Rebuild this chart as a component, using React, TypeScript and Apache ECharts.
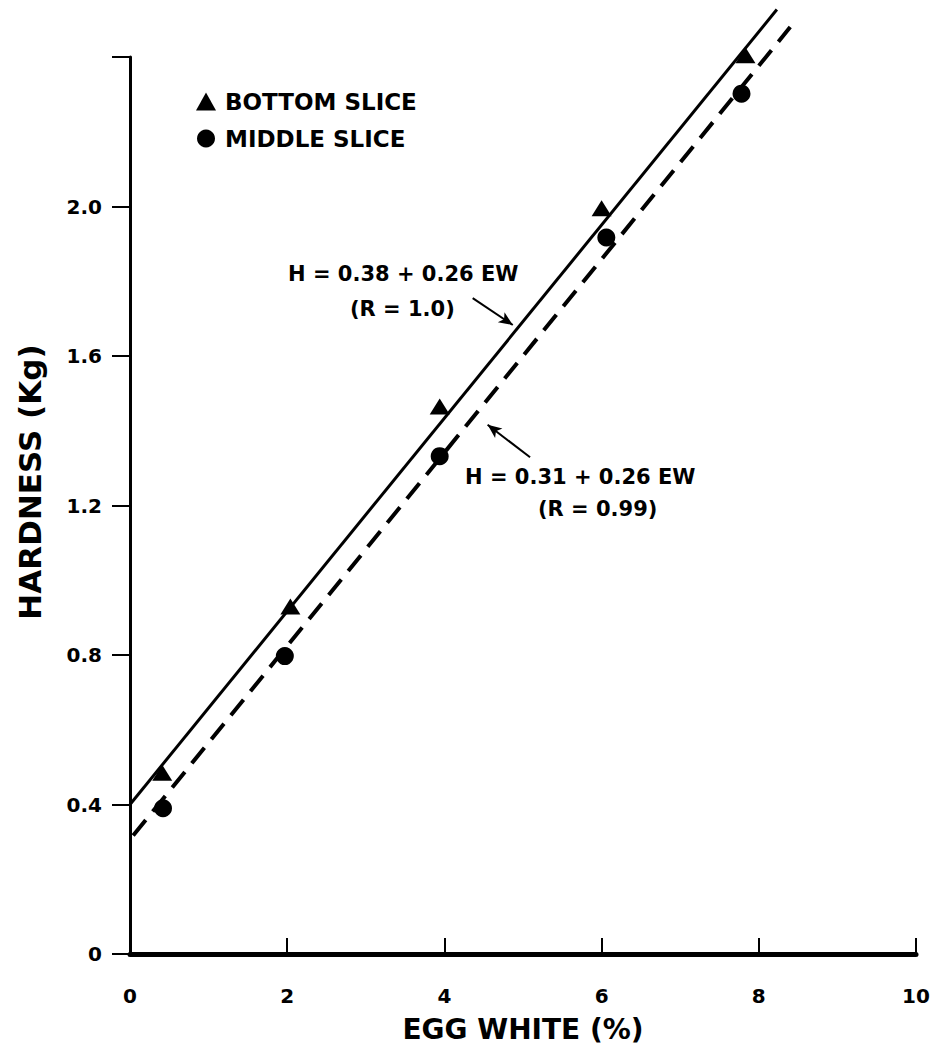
import React, { useEffect, useRef } from "react";
import * as echarts from "echarts";

const bottomSlice: [number, number][] = [
  [0.41, 0.485],
  [2.04, 0.93],
  [3.94, 1.465],
  [6.0, 1.995],
  [7.83, 2.405],
];
const middleSlice: [number, number][] = [
  [0.42, 0.39],
  [1.97, 0.797],
  [3.94, 1.332],
  [6.06, 1.917],
  [7.78, 2.302],
];
const bottomFit: [number, number][] = [
  [0, 0.4],
  [8.23, 2.527],
];
const middleFit: [number, number][] = [
  [0.04, 0.317],
  [8.4, 2.48],
];
const arrowBottom: [number, number][] = [
  [4.36, 1.755],
  [4.87, 1.683],
];
const arrowMiddle: [number, number][] = [
  [5.09, 1.329],
  [4.55, 1.416],
];
const seriesNames = ["BOTTOM SLICE", "MIDDLE SLICE"];
const eqBottom = ["H = 0.38 + 0.26 EW", "(R = 1.0)"];
const eqMiddle = ["H = 0.31 + 0.26 EW", "(R = 0.99)"];
const xTitle = "EGG WHITE (%)";
const yTitle = "HARDNESS (Kg)";

const FONT = "'DejaVu Sans', Verdana, sans-serif";

export default function App() {
  const ref = useRef<HTMLDivElement>(null);
  useEffect(() => {
    if (!ref.current) return;
    const chart = echarts.init(ref.current, null, { renderer: "svg" });
    const txt = { fontFamily: FONT, fontWeight: "bold" as const, color: "#000" };
    chart.setOption({
      animation: false,
      backgroundColor: "#fff",
      grid: { left: 130, right: 17, top: 57, bottom: 88 },
      legend: {
        data: seriesNames,
        orient: "vertical",
        left: 191,
        top: 85,
        itemWidth: 20,
        itemHeight: 18,
        itemGap: 14,
        textStyle: { ...txt, fontSize: 23, lineHeight: 20, padding: [0, 0, 0, 4] },
      },
      xAxis: {
        type: "value",
        min: 0,
        max: 10,
        interval: 2,
        name: xTitle,
        nameLocation: "middle",
        nameGap: 61,
        nameTextStyle: { ...txt, fontSize: 28 },
        axisLine: { lineStyle: { color: "#000", width: 5 } },
        axisTick: { inside: true, length: 16, lineStyle: { color: "#000", width: 2 } },
        axisLabel: { ...txt, fontSize: 20, margin: 32 },
        splitLine: { show: false },
      },
      yAxis: {
        type: "value",
        min: 0,
        max: 2.4,
        interval: 0.4,
        axisLine: { show: true, lineStyle: { color: "#000", width: 3 } },
        axisTick: { show: true, inside: false, length: 18, lineStyle: { color: "#000", width: 2 } },
        axisLabel: {
          ...txt,
          fontSize: 20,
          margin: 28,
          formatter: (v: number) => (v > 2.3 ? "" : v === 0 ? "0" : v.toFixed(1)),
        },
        splitLine: { show: false },
      },
      series: [
        {
          name: "fitBottom",
          type: "line",
          data: bottomFit,
          showSymbol: false,
          symbol: "none",
          clip: false,
          lineStyle: { color: "#000", width: 3 },
          z: 2,
          markLine: {
            silent: true,
            symbol: ["none", "arrow"],
            symbolSize: [9, 14],
            label: { show: false },
            lineStyle: { color: "#000", width: 2, type: "solid" },
            data: [
              [{ coord: arrowBottom[0] }, { coord: arrowBottom[1] }],
              [{ coord: arrowMiddle[0] }, { coord: arrowMiddle[1] }],
            ],
          },
        },
        {
          name: "fitMiddle",
          type: "line",
          data: middleFit,
          showSymbol: false,
          symbol: "none",
          clip: false,
          lineStyle: { color: "#000", width: 4, type: [20, 11] },
          z: 2,
        },
        {
          name: seriesNames[0],
          type: "scatter",
          data: bottomSlice,
          symbol: "triangle",
          symbolSize: [20, 16],
          itemStyle: { color: "#000", opacity: 1 },
          clip: false,
          z: 3,
        },
        {
          name: seriesNames[1],
          type: "scatter",
          data: middleSlice,
          symbol: "circle",
          symbolSize: 18,
          itemStyle: { color: "#000", opacity: 1 },
          clip: false,
          z: 3,
        },
      ],
      graphic: [
        {
          type: "text",
          x: 30,
          y: 482,
          rotation: Math.PI / 2,
          style: {
            text: yTitle,
            x: 0,
            y: 0,
            align: "center",
            verticalAlign: "middle",
            font: `bold 31px ${FONT}`,
            fill: "#000",
          },
        },
        { type: "text", left: 288, top: 263, style: { text: eqBottom[0], font: `bold 21px ${FONT}`, fill: "#000" } },
        { type: "text", left: 350, top: 298, style: { text: eqBottom[1], font: `bold 21px ${FONT}`, fill: "#000" } },
        { type: "text", left: 465, top: 466, style: { text: eqMiddle[0], font: `bold 21px ${FONT}`, fill: "#000" } },
        { type: "text", left: 538, top: 498, style: { text: eqMiddle[1], font: `bold 21px ${FONT}`, fill: "#000" } },
      ],
    });
    return () => chart.dispose();
  }, []);
  return (
    <div
      ref={ref}
      style={{ position: "absolute", left: 0, top: 0, width: 933, height: 1048 }}
    />
  );
}
